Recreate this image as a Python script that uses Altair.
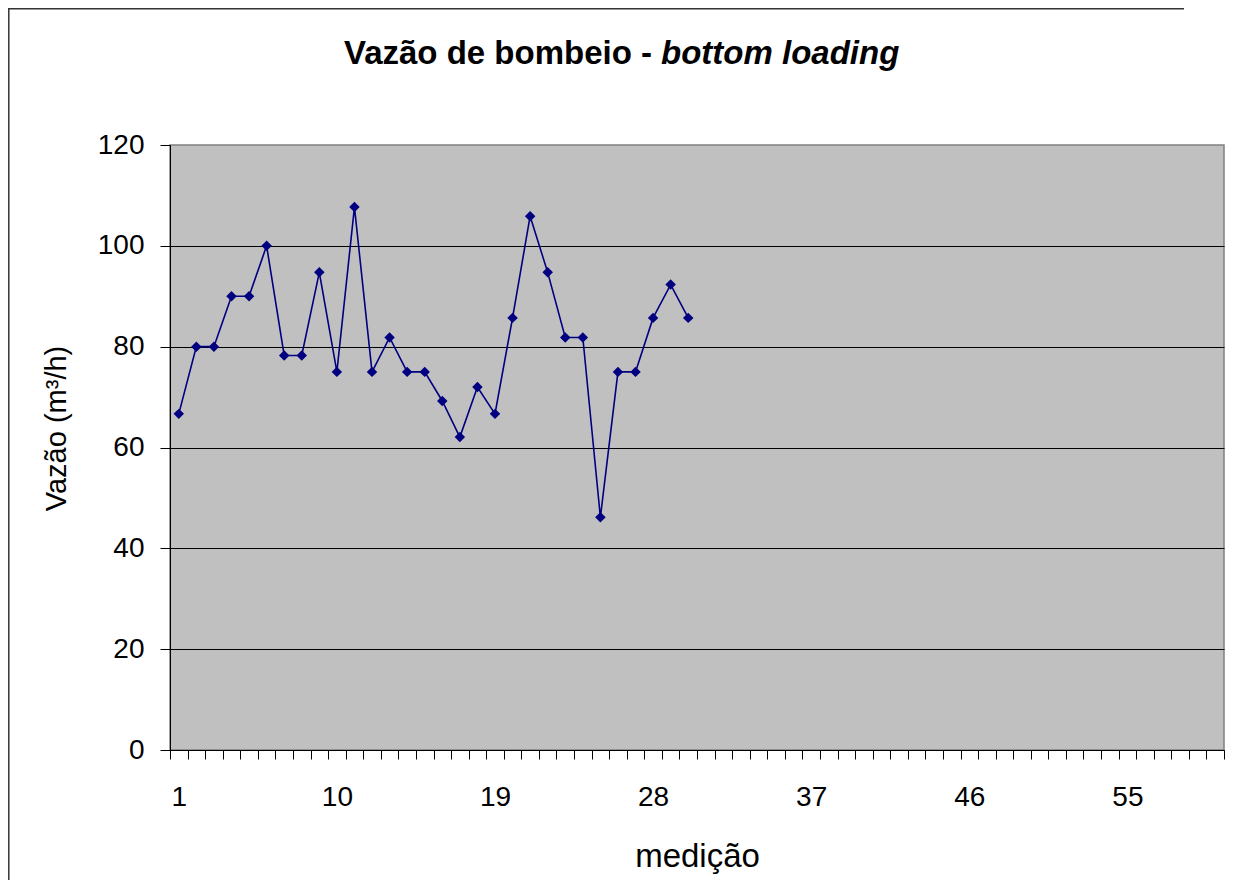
import altair as alt
import pandas as pd

# ---- data ----
medicao = list(range(1, 31))
vazao = [66.67, 80.0, 80.0, 90.0, 90.0, 100.0, 78.26, 78.26, 94.74, 75.0,
         107.69, 75.0, 81.82, 75.0, 75.0, 69.23, 62.07, 72.0, 66.67, 85.71,
         105.88, 94.74, 81.82, 81.82, 46.15, 75.0, 75.0, 85.71, 92.31, 85.71]
categorias = list(range(1, 61))
y_ticks = [0, 20, 40, 60, 80, 100, 120]
title_main = ["Vazão de bombeio -"]
title_italic = ["bottom loading"]
x_title = "medição"
y_title = "Vazão (m³/h)"

df = pd.DataFrame({"medicao": medicao, "vazao": vazao})

W, H = 1054, 605
FONT = "Liberation Sans"
NAVY = "#000080"

x_enc = alt.X(
    "medicao:O",
    scale=alt.Scale(type="band", domain=categorias, paddingInner=0, paddingOuter=0),
    axis=alt.Axis(
        title=x_title,
        labelAngle=0,
        tickBand="extent",
        labelExpr="(datum.value - 1) % 9 == 0 ? datum.label : ''",
        labelOverlap=False,
        labelPadding=24,
        labelFontSize=28,
        tickSize=9,
        grid=False,
        titleFontSize=33,
        titleY=116,
        titleBaseline="alphabetic",
    ),
)
y_enc = alt.Y(
    "vazao:Q",
    scale=alt.Scale(domain=[0, 120], nice=False, zero=True),
    axis=alt.Axis(
        title=y_title,
        values=y_ticks,
        grid=True,
        gridColor="#000000",
        gridWidth=1,
        gridOpacity={"condition": {"test": "datum.value == 120", "value": 0}, "value": 1},
        tickSize=10,
        labelPadding=16,
        labelFontSize=28,
        titleFontSize=29,
        titleAngle=270,
        titleX=-114,
        titleY=283,
        titleAlign="center",
        titleBaseline="middle",
    ),
)

line = alt.Chart(df).mark_line(
    color=NAVY,
    strokeWidth=1.6,
    point=alt.OverlayMarkDef(shape="diamond", size=110, filled=True, color=NAVY, opacity=1),
).encode(x=x_enc, y=y_enc)

t1 = alt.Chart(pd.DataFrame({"t": title_main})).mark_text(
    align="right", baseline="alphabetic", font=FONT, fontSize=33, fontWeight="bold", color="black"
).encode(x=alt.value(482), y=alt.value(-81), text="t:N")

t2 = alt.Chart(pd.DataFrame({"t": title_italic})).mark_text(
    align="left", baseline="alphabetic", font=FONT, fontSize=33, fontWeight="bold",
    fontStyle="italic", color="black"
).encode(x=alt.value(491), y=alt.value(-81), text="t:N")

# frame of the whole chart area (top and left edges; right/bottom lie outside the picture)
frame_left = alt.Chart(pd.DataFrame({"a": [0]})).mark_rule(color="#333333", strokeWidth=1.5).encode(
    x=alt.value(-161.2), y=alt.value(-137), y2=alt.value(H + 200)
)
frame_top = alt.Chart(pd.DataFrame({"a": [0]})).mark_rule(color="#333333", strokeWidth=1.5).encode(
    x=alt.value(-162), x2=alt.value(W - 40), y=alt.value(-136.2), y2=alt.value(-136.2)
)

chart = (
    alt.layer(frame_left, frame_top, line, t1, t2)
    .properties(
        width=W,
        height=H,
        autosize=alt.AutoSizeParams(type="none"),
        padding={"left": 162, "top": 137, "right": 4, "bottom": 130},
        background="white",
    )
    .configure_view(fill="#C0C0C0", stroke="#808080", strokeWidth=1.5)
    .configure_axis(
        domainColor="black",
        tickColor="black",
        labelColor="black",
        titleColor="black",
        labelFont=FONT,
        titleFont=FONT,
        titleFontWeight="normal",
    )
)

chart.save("out.html", embed_options={"renderer": "svg", "actions": False})
